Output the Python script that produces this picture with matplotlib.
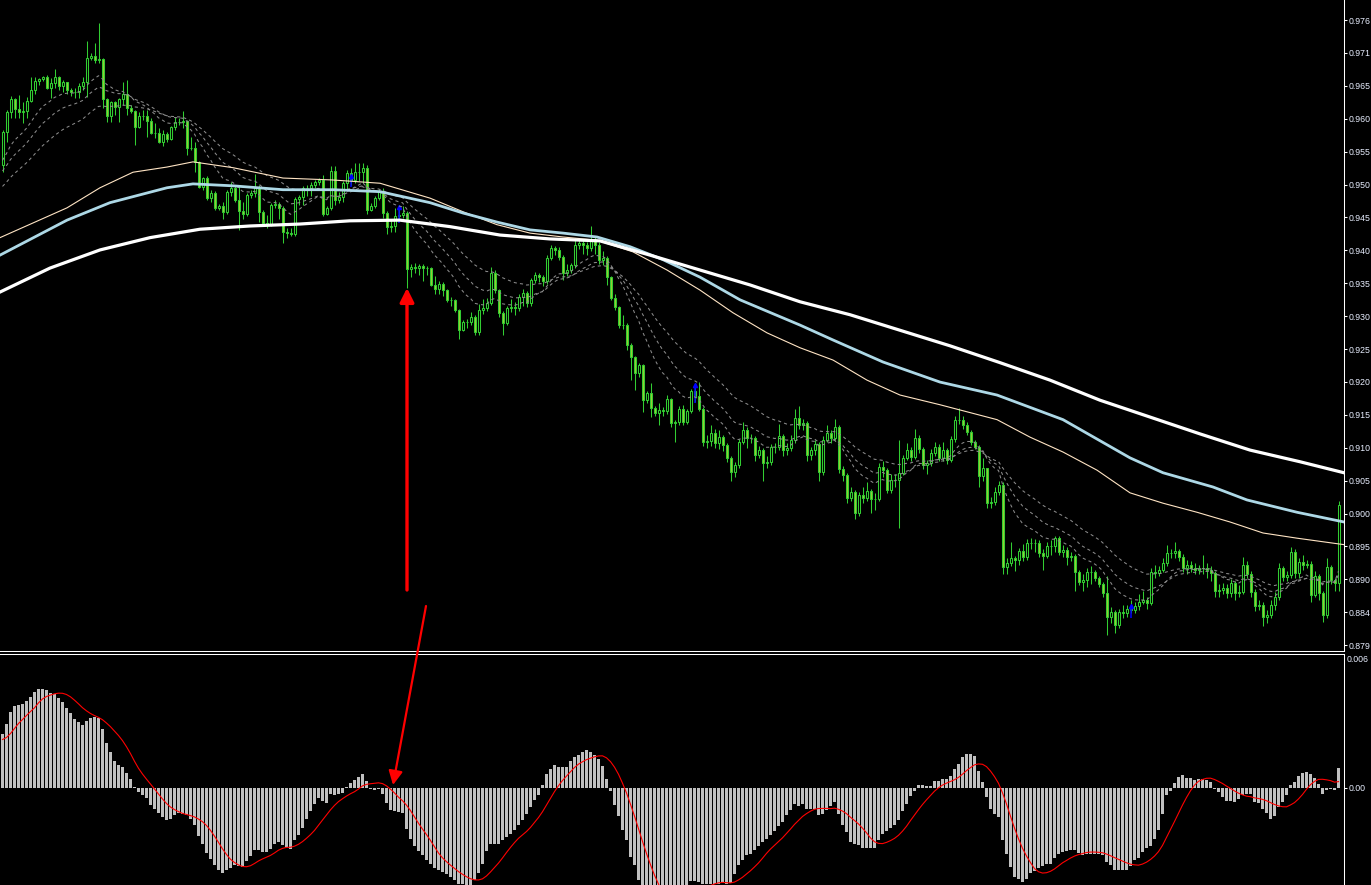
import numpy as np
import matplotlib
matplotlib.use("Agg")
import matplotlib.pyplot as plt
from matplotlib.patches import FancyArrowPatch, ArrowStyle

# ---------------- data (prices in pips = 1e-4) ----------------
open0_pips = 9537
close_pips = [
 9588,9619,9639,9624,9619,9621,9636,9653,9667,9670,
 9673,9656,9664,9673,9659,9665,9653,9650,9650,9659,
 9665,9702,9706,9699,9701,9639,9613,9635,9627,9639,
 9647,9625,9621,9596,9613,9613,9605,9587,9587,9573,
 9585,9577,9596,9604,9604,9605,9563,9563,9542,9503,
 9517,9486,9494,9471,9474,9465,9496,9502,9483,9466,
 9462,9491,9494,9503,9465,9448,9446,9476,9477,9471,
 9434,9432,9431,9485,9488,9502,9502,9506,9511,9514,
 9462,9471,9528,9483,9488,9509,9525,9514,9526,9526,
 9533,9468,9474,9486,9496,9463,9442,9443,9458,9460,
 9463,9377,9380,9378,9381,9378,9378,9352,9346,9354,
 9344,9329,9329,9313,9283,9295,9295,9303,9279,9313,
 9316,9324,9371,9344,9309,9293,9316,9318,9316,9333,
 9340,9324,9360,9367,9364,9358,9394,9409,9406,9395,
 9371,9375,9383,9414,9417,9414,9409,9421,9414,9391,
 9394,9364,9332,9318,9290,9290,9259,9241,9216,9228,
 9174,9185,9162,9154,9159,9157,9176,9139,9140,9161,
 9140,9157,9188,9181,9161,9110,9111,9123,9108,9117,
 9105,9085,9063,9074,9110,9128,9116,9116,9090,9097,
 9077,9079,9102,9102,9119,9097,9100,9113,9147,9136,
 9139,9090,9097,9106,9063,9113,9123,9116,9133,9068,
 9059,9023,9032,9000,9028,9023,9034,9022,9022,9071,
 9066,9035,9051,9051,9062,9085,9097,9086,9116,9099,
 9074,9077,9093,9102,9085,9097,9082,9114,9144,9144,
 9136,9125,9110,9102,9057,9069,9015,9017,9032,9043,
 8917,8923,8930,8927,8941,8932,8954,8954,8954,8938,
 8934,8949,8949,8961,8940,8943,8932,8934,8909,8893,
 8897,8909,8909,8900,8890,8876,8839,8847,8827,8847,
 8845,8852,8850,8856,8863,8866,8861,8909,8907,8912,
 8923,8938,8938,8941,8932,8915,8920,8915,8912,8915,
 8915,8912,8907,8879,8881,8884,8876,8892,8876,8878,
 8920,8906,8878,8856,8858,8839,8842,8858,8870,8915,
 8901,8904,8940,8907,8924,8920,8921,8873,8903,8876,
 8842,8917,8896,8892,9012]
high_pips = [
 9591,9622,9644,9641,9645,9634,9642,9673,9673,9672,
 9675,9676,9672,9685,9675,9668,9666,9656,9656,9664,
 9673,9729,9710,9726,9756,9703,9640,9636,9636,9640,
 9665,9668,9630,9622,9619,9622,9622,9610,9602,9594,
 9591,9588,9598,9612,9610,9621,9606,9580,9573,9543,
 9519,9520,9499,9497,9477,9480,9499,9511,9505,9506,
 9480,9494,9499,9523,9506,9468,9460,9479,9483,9480,
 9474,9440,9440,9488,9491,9505,9507,9511,9514,9517,
 9522,9474,9536,9536,9496,9512,9530,9533,9540,9540,
 9541,9537,9478,9490,9500,9502,9466,9452,9470,9476,
 9474,9466,9384,9386,9385,9384,9381,9380,9366,9358,
 9357,9346,9333,9331,9315,9298,9300,9310,9305,9322,
 9330,9332,9379,9375,9346,9311,9320,9330,9325,9338,
 9345,9343,9363,9372,9370,9368,9398,9414,9412,9410,
 9398,9385,9386,9425,9425,9421,9418,9443,9428,9419,
 9404,9396,9366,9338,9320,9305,9293,9262,9243,9232,
 9230,9188,9200,9165,9170,9163,9182,9178,9144,9165,
 9166,9161,9192,9200,9202,9163,9120,9135,9130,9128,
 9120,9108,9088,9078,9114,9140,9132,9122,9118,9103,
 9100,9088,9106,9108,9138,9122,9108,9120,9160,9165,
 9145,9142,9102,9112,9110,9118,9135,9128,9145,9136,
 9072,9062,9040,9035,9032,9040,9048,9037,9030,9077,
 9080,9070,9060,9060,9113,9090,9108,9102,9130,9120,
 9102,9082,9098,9110,9106,9110,9100,9118,9150,9162,
 9150,9140,9128,9113,9105,9085,9070,9025,9040,9050,
 9048,8930,8955,8934,8946,8952,8960,8962,8960,8958,
 8945,8955,8958,8965,8964,8950,8948,8940,8936,8912,
 8905,8915,8918,8912,8903,8893,8902,8855,8850,8852,
 8858,8858,8865,8862,8875,8880,8870,8915,8920,8918,
 8930,8950,8945,8955,8945,8936,8928,8925,8922,8920,
 8935,8922,8918,8910,8890,8892,8890,8898,8895,8888,
 8932,8925,8910,8882,8865,8862,8850,8865,8878,8922,
 8918,8910,8948,8945,8930,8935,8928,8925,8910,8906,
 8880,8930,8920,8900,9018]
low_pips = [
 9526,9573,9610,9610,9609,9602,9610,9634,9647,9661,
 9667,9655,9641,9656,9653,9650,9647,9643,9641,9641,
 9653,9642,9699,9695,9695,9625,9604,9604,9615,9604,
 9630,9614,9618,9568,9594,9607,9580,9585,9579,9571,
 9567,9573,9576,9591,9599,9594,9553,9560,9527,9502,
 9499,9483,9480,9468,9468,9454,9462,9490,9480,9437,
 9454,9459,9486,9488,9449,9445,9440,9443,9471,9454,
 9417,9425,9428,9428,9475,9475,9490,9490,9502,9506,
 9459,9460,9468,9476,9479,9480,9500,9507,9510,9512,
 9510,9462,9466,9470,9483,9455,9430,9433,9433,9452,
 9455,9347,9365,9370,9368,9358,9368,9350,9338,9338,
 9335,9326,9320,9310,9268,9281,9286,9290,9275,9275,
 9307,9312,9321,9340,9303,9275,9290,9310,9305,9312,
 9320,9318,9320,9355,9356,9350,9354,9390,9398,9390,
 9360,9366,9370,9378,9408,9400,9398,9405,9400,9385,
 9382,9352,9328,9314,9286,9284,9252,9205,9190,9210,
 9156,9170,9148,9150,9136,9150,9152,9133,9110,9136,
 9135,9137,9154,9172,9158,9104,9100,9103,9100,9098,
 9095,9078,9050,9055,9070,9106,9100,9108,9080,9085,
 9050,9070,9074,9092,9097,9088,9090,9096,9108,9130,
 9128,9080,9082,9090,9050,9058,9110,9108,9112,9062,
 9050,9015,9018,8990,8995,9015,9018,9000,9005,9018,
 9055,9030,9030,9040,8977,9058,9082,9080,9083,9092,
 9068,9060,9072,9088,9080,9080,9076,9078,9110,9138,
 9130,9120,9105,9098,9040,9050,9008,9008,9012,9028,
 8905,8905,8918,8910,8920,8925,8928,8945,8940,8932,
 8912,8930,8935,8940,8935,8932,8920,8925,8880,8888,
 8880,8885,8890,8895,8885,8870,8812,8830,8815,8822,
 8838,8840,8845,8845,8850,8860,8852,8858,8900,8902,
 8908,8918,8930,8930,8925,8908,8905,8908,8905,8905,
 8905,8900,8895,8870,8870,8875,8868,8870,8866,8870,
 8875,8900,8870,8848,8850,8826,8830,8838,8850,8865,
 8895,8895,8900,8900,8900,8912,8915,8862,8870,8866,
 8832,8838,8890,8880,8880]

# short EMAs (dotted grey), seeded with their values just before the first bar
ema_periods = [13, 21, 34]
ema_seed_pips = [9537, 9522, 9499]

# long moving averages read at sample bars
ma_peach_idx = [-0.5,16.25,24.5,32.75,41.25,47.75,57.75,70.25,82.75,94.5,107,115.25,123.75,132,140.25,148.75,
                157.75,166.25,174.5,182.75,191.25,199.5,207.75,216.25,224.5,234.5,248.75,257,265.25,273.75,
                282,290.25,298.75,307,315.25,323.75,335.5]
ma_peach_pips = [9425,9471,9502,9526,9534,9542,9533,9517,9514,9509,9486,9465,9445,9432,9426,9421,
                 9403,9375,9344,9309,9278,9255,9236,9205,9182,9167,9144,9117,9094,9066,
                 9031,9015,9001,8986,8969,8961,8951]
ma_blue_idx = [-0.5,16.25,27,41.25,47.75,57.75,70.25,82.75,94.5,107,115.25,123.75,132,140.25,148.75,157,
               165.25,174.5,184.5,199.5,207.75,220.25,234.5,248.75,265.25,282,290.25,302.75,311.25,323.75,335.5]
ma_blue_pips = [9398,9452,9479,9502,9508,9505,9499,9499,9496,9479,9463,9449,9437,9432,9426,9411,
                9391,9364,9329,9290,9267,9233,9202,9182,9144,9085,9062,9040,9020,9001,8986]
ma_white_idx = [-0.5,12,24.5,37,49.5,62,74.5,87,99.5,112,124.5,137,149.5,162,174.5,187,199.5,212,224.5,
                237,249.5,262,274.5,287,299.5,312,324.5,335.5]
ma_white_pips = [9341,9378,9406,9425,9438,9443,9446,9451,9452,9442,9429,9423,9420,9398,9375,9352,9326,9306,9282,
                 9258,9232,9205,9174,9148,9122,9097,9079,9062]

blue_mark_idx = [87, 99, 173, 282]
blue_mark_top_pips = [9520, 9472, 9198, 8856]
blue_mark_bot_pips = [9503, 9448, 9170, 8838]

# MACD main (histogram) in units of 1e-5
macd_e5 = [
 270,320,380,410,415,420,435,455,480,495,
 495,490,475,470,450,430,400,375,345,330,
 315,335,350,355,350,295,225,180,135,115,
 105,75,45,5,-20,-35,-50,-85,-105,-125,
 -145,-160,-155,-135,-125,-130,-135,-155,-185,-240,
 -280,-325,-355,-385,-410,-425,-410,-400,-385,-390,
 -395,-365,-340,-310,-310,-320,-320,-305,-280,-270,
 -285,-295,-305,-260,-235,-200,-155,-115,-80,-50,
 -65,-75,-30,-35,-30,-25,5,25,40,55,
 70,35,-5,-10,-5,-30,-75,-110,-115,-120,
 -125,-205,-255,-290,-315,-335,-360,-380,-400,-410,
 -420,-430,-445,-460,-480,-480,-490,-490,-460,-425,
 -380,-315,-280,-280,-280,-260,-245,-230,-210,-185,
 -160,-130,-95,-60,-35,15,70,95,115,105,
 105,105,135,155,165,180,190,180,165,145,
 110,45,-15,-85,-140,-210,-260,-345,-385,-460,
 -525,-560,-590,-610,-620,-620,-610,-590,-570,-550,
 -530,-490,-465,-465,-470,-480,-480,-480,-480,-480,
 -470,-480,-475,-430,-385,-360,-335,-330,-310,-290,
 -270,-255,-235,-215,-190,-170,-135,-110,-80,-90,
 -80,-105,-105,-105,-135,-130,-110,-90,-70,-130,
 -185,-220,-270,-280,-285,-300,-300,-300,-300,-260,
 -230,-215,-200,-185,-160,-115,-80,-40,-15,15,
 15,10,10,35,35,45,45,60,95,120,
 155,170,170,160,85,30,-45,-105,-130,-145,
 -260,-330,-395,-445,-455,-470,-455,-425,-415,-400,
 -390,-380,-380,-350,-330,-320,-315,-310,-310,-325,
 -335,-330,-330,-330,-330,-335,-370,-385,-410,-410,
 -410,-410,-390,-360,-350,-320,-300,-290,-255,-210,
 -130,-35,-15,25,55,65,50,50,40,45,
 45,40,30,-5,-20,-45,-65,-65,-70,-55,
 -35,-30,-30,-70,-75,-105,-125,-155,-140,-95,
 -70,-35,15,30,60,75,80,70,50,20,
 -30,-10,-5,-10,100]
signal_head_e5 = [240, 250, 270, 295, 320, 340, 360, 380]
signal_period = 9

price_tick_values = [0.97610,0.97102,0.96594,0.96086,0.95578,0.95070,0.94562,0.94054,0.93546,0.93038,
                     0.92530,0.92022,0.91514,0.91006,0.90498,0.89990,0.89482,0.88974,0.88466,0.87958]
price_tick_labels = ['0.976','0.971','0.965','0.960','0.955','0.950','0.945','0.940','0.935','0.930',
                     '0.925','0.920','0.915','0.910','0.905','0.900','0.895','0.890','0.884','0.879']
macd_tick_values = [0.0]
macd_tick_labels = ['0.00']
macd_top_label = '0.006'

# ---------------- derived series ----------------
close = np.array(close_pips) / 1e4
opens = np.r_[open0_pips, close_pips[:-1]] / 1e4
high = np.array(high_pips) / 1e4
low = np.array(low_pips) / 1e4
n = len(close)
xs = np.arange(n) + 0.125

emas = []
for p, s in zip(ema_periods, ema_seed_pips):
    a = 2.0 / (p + 1)
    e = s / 1e4
    vals = []
    for c in close:
        e = e + a * (c - e)
        vals.append(e)
    emas.append(np.array(vals))

hist = np.array(macd_e5) * 1e-5
sig = np.empty(n)
sig[:len(signal_head_e5)] = np.array(signal_head_e5) * 1e-5
for i in range(len(signal_head_e5), n):
    sig[i] = hist[i - signal_period + 1:i + 1].mean()

# ---------------- figure ----------------
W, H = 1371, 885
fig = plt.figure(figsize=(W / 100, H / 100), dpi=100, facecolor='black')
axw = 1344 / W
ax = fig.add_axes([0, 1 - 651 / H, axw, 651 / H], facecolor='black')
ax2 = fig.add_axes([0, 0, axw, 231 / H], facecolor='black')

GREEN = '#32CD32'
BEARFILL = '#9ACD32'
LABELC = '#E8EEFF'
FONT = 'Liberation Sans'
FS = 6.3

# candles
body_lo = np.minimum(opens, close)
body_hi = np.maximum(opens, close)
ax.vlines(xs, np.minimum(low, body_lo), np.maximum(high, body_hi), colors=GREEN, linewidth=0.75, zorder=2)
bull = close >= opens
ax.bar(xs[bull], (body_hi - body_lo)[bull], bottom=body_lo[bull], width=0.5,
       facecolor='black', edgecolor=GREEN, linewidth=0.75, zorder=3)
ax.bar(xs[~bull], (body_hi - body_lo)[~bull], bottom=body_lo[~bull], width=0.5,
       facecolor=BEARFILL, edgecolor=GREEN, linewidth=0.75, zorder=3)

# blue marks
bm = np.array(blue_mark_idx) + 0.125
ax.vlines(bm, np.array(blue_mark_bot_pips) / 1e4, np.array(blue_mark_top_pips) / 1e4,
          colors='#0000FF', linewidth=1.1, zorder=4)
ax.plot(bm, np.array(blue_mark_top_pips) / 1e4, linestyle='none', marker='^', markersize=3,
        color='#0000FF', zorder=4)

# dotted EMAs
for e in emas:
    ax.plot(xs, e, color='#8c8c8c', linewidth=0.75, linestyle=(0, (3, 3)), zorder=5)

# long MAs
ax.plot(ma_peach_idx, np.array(ma_peach_pips) / 1e4, color='#FFE4C4', linewidth=0.8, zorder=6)
ax.plot(ma_blue_idx, np.array(ma_blue_pips) / 1e4, color='#ADD8E6', linewidth=2.0, zorder=6)
ax.plot(ma_white_idx, np.array(ma_white_pips) / 1e4, color='#FFFFFF', linewidth=2.3, zorder=7)

ax.set_xlim(-0.5, 335.5)
ax.set_ylim(0.87868, 0.97919)

# MACD panel
ax2.bar(xs, hist, width=0.75, color='#C0C0C0', linewidth=0, zorder=2)
ax2.plot(xs, sig, color='#FF0000', linewidth=0.8, zorder=3)
ax2.set_xlim(-0.5, 335.5)
ax2.set_ylim(-0.004875, 0.006675)

for a in (ax, ax2):
    for s in ('left', 'top', 'bottom'):
        a.spines[s].set_visible(False)
    a.spines['right'].set_color('white')
    a.spines['right'].set_linewidth(0.75)
    a.set_xticks([])
    a.yaxis.tick_right()
    a.tick_params(axis='y', direction='out', length=2.2, width=0.75, colors='white',
                  labelcolor=LABELC, labelsize=FS, pad=1.0)
ax.spines['bottom'].set_visible(True)
ax.spines['bottom'].set_color('white')
ax.spines['bottom'].set_linewidth(0.75)
ax2.spines['top'].set_visible(True)
ax2.spines['top'].set_color('white')
ax2.spines['top'].set_linewidth(0.75)

ax.set_yticks(price_tick_values)
ax.set_yticklabels(price_tick_labels, fontfamily=FONT)
ax2.set_yticks(macd_tick_values)
ax2.set_yticklabels(macd_tick_labels, fontfamily=FONT)
fig.text(1347 / W, (H - 660) / H, macd_top_label, color=LABELC, fontsize=FS,
         fontfamily=FONT, ha='left', va='center')

# red annotation arrows (figure pixel positions)
arr1 = FancyArrowPatch((407 / W, (H - 590) / H), (407 / W, (H - 288) / H), transform=fig.transFigure,
                       arrowstyle=ArrowStyle('-|>', head_length=0.6, head_width=0.3), mutation_scale=14,
                       color='#FF0000', linewidth=2.4, shrinkA=0, shrinkB=0)
arr2 = FancyArrowPatch((426 / W, (H - 606) / H), (393 / W, (H - 785) / H), transform=fig.transFigure,
                       arrowstyle=ArrowStyle('-|>', head_length=0.6, head_width=0.3), mutation_scale=14,
                       color='#FF0000', linewidth=1.6, shrinkA=0, shrinkB=0)
fig.add_artist(arr1)
fig.add_artist(arr2)

fig.savefig('out.png', dpi=100, facecolor='black')
